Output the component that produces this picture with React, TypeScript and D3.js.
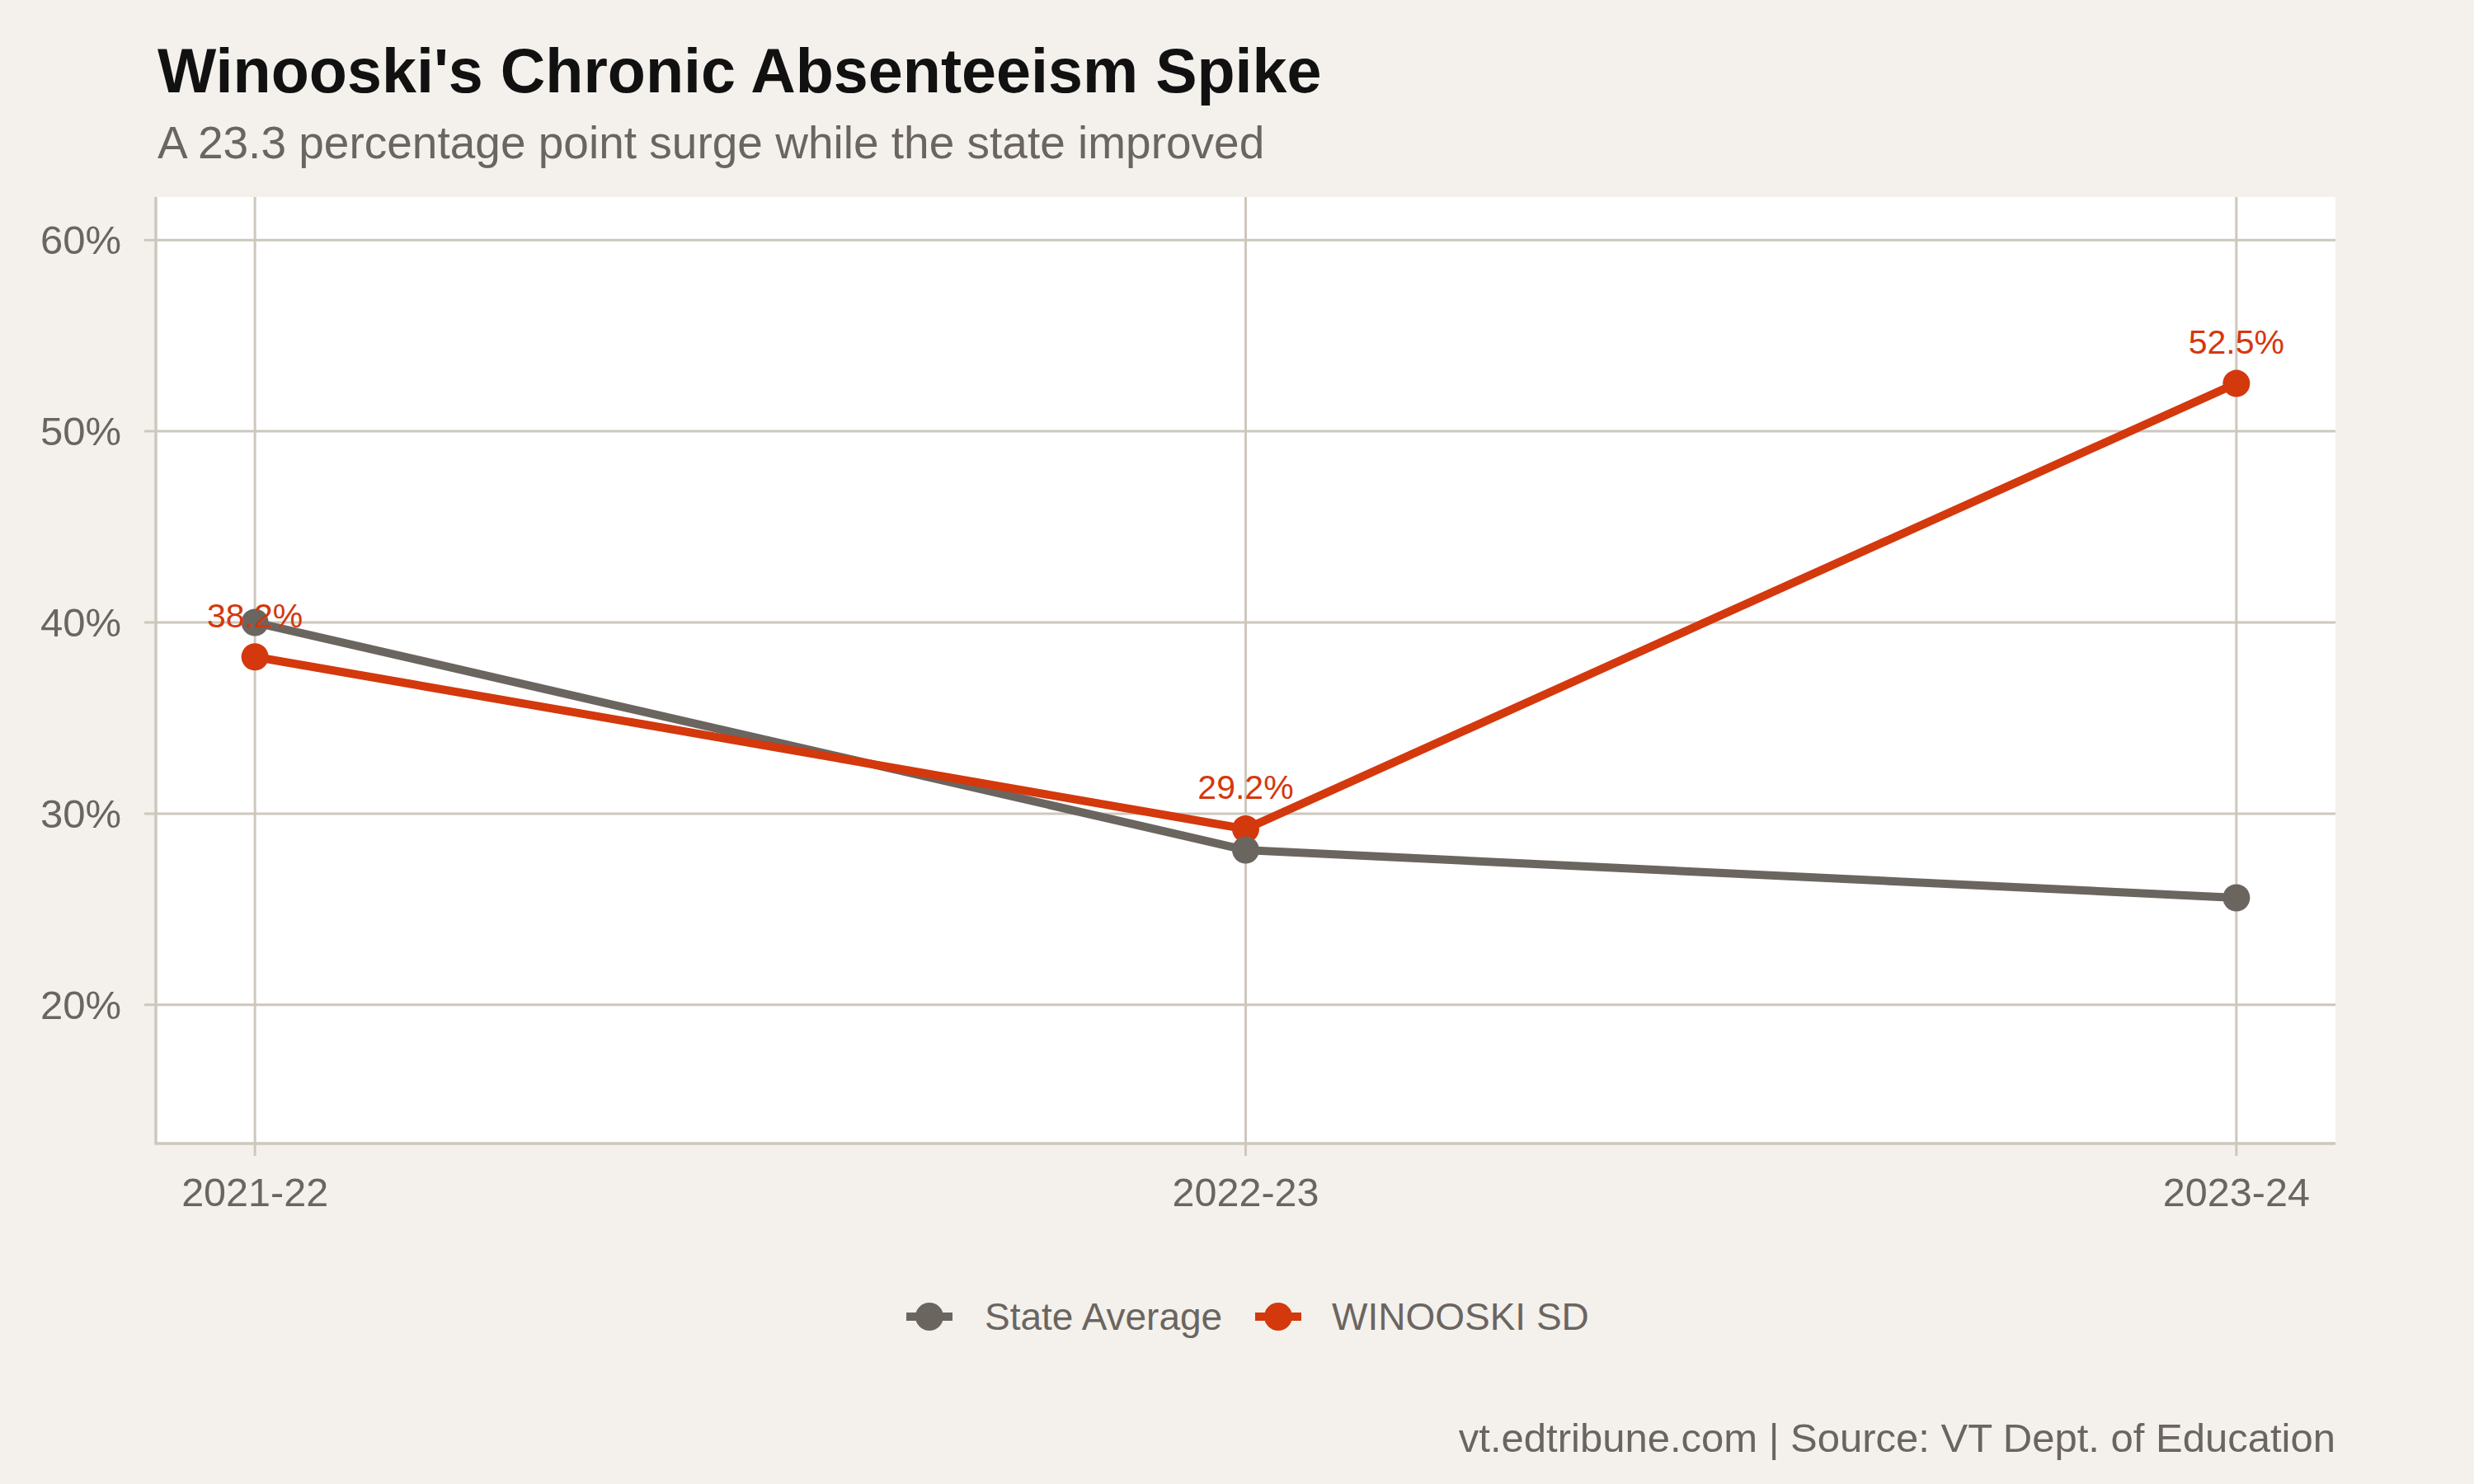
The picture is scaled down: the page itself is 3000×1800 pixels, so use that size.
import { useEffect, useRef } from "react";
import * as d3 from "d3";

const width = 3000;
const height = 1800;
const panel = { left: 189, right: 2832, top: 239, bottom: 1387 };

const schoolYears = ["2021-22", "2022-23", "2023-24"];
const stateAverage = [40.0, 28.1, 25.6];
const winooski = [38.2, 29.2, 52.5];
const yTicks = [20, 30, 40, 50, 60];
const yLimits = [15, 60];

const seriesNames = ["State Average", "WINOOSKI SD"];
const seriesColors = ["#6b6560", "#d4380d"];

const bg = "#f4f1ec";
const gridColor = "#cdc7bd";
const textGrey = "#6b6560";
const font = "'Liberation Sans', Arial, Helvetica, sans-serif";

export default function App() {
  const svgRef = useRef<SVGSVGElement | null>(null);

  useEffect(() => {
    if (!svgRef.current) return;
    const svg = d3.select(svgRef.current);
    svg.selectAll("*").remove();

    // x: index scale with 5% expansion like ggplot
    const n = schoolYears.length;
    const xPad = (n - 1) * 0.05;
    const x = d3
      .scaleLinear()
      .domain([-xPad, n - 1 + xPad])
      .range([panel.left, panel.right]);

    const ySpan = yLimits[1] - yLimits[0];
    const y = d3
      .scaleLinear()
      .domain([yLimits[0] - ySpan * 0.05, yLimits[1] + ySpan * 0.05])
      .range([panel.bottom, panel.top]);

    svg.append("rect").attr("width", width).attr("height", height).attr("fill", bg);

    // panel
    svg
      .append("rect")
      .attr("x", panel.left)
      .attr("y", panel.top)
      .attr("width", panel.right - panel.left)
      .attr("height", panel.bottom - panel.top)
      .attr("fill", "#ffffff");

    const grid = svg.append("g");
    grid
      .selectAll("line.h")
      .data(yTicks)
      .join("line")
      .attr("class", "h")
      .attr("x1", panel.left - 14)
      .attr("x2", panel.right)
      .attr("y1", (d) => y(d))
      .attr("y2", (d) => y(d))
      .attr("stroke", gridColor)
      .attr("stroke-width", 3);

    grid
      .selectAll("line.v")
      .data(schoolYears)
      .join("line")
      .attr("class", "v")
      .attr("x1", (_, i) => x(i))
      .attr("x2", (_, i) => x(i))
      .attr("y1", panel.top)
      .attr("y2", panel.bottom + 15)
      .attr("stroke", gridColor)
      .attr("stroke-width", 3);

    // axis lines
    svg
      .append("path")
      .attr("d", `M${panel.left},${panel.top}V${panel.bottom}H${panel.right}`)
      .attr("fill", "none")
      .attr("stroke", gridColor)
      .attr("stroke-width", 3.5);

    // tick labels
    svg
      .append("g")
      .selectAll("text")
      .data(yTicks)
      .join("text")
      .attr("x", 147)
      .attr("y", (d) => y(d) + 17)
      .attr("text-anchor", "end")
      .attr("fill", textGrey)
      .style("font-family", font)
      .style("font-size", "49px")
      .text((d) => `${d}%`);

    svg
      .append("g")
      .selectAll("text")
      .data(schoolYears)
      .join("text")
      .attr("x", (_, i) => x(i))
      .attr("y", 1463)
      .attr("text-anchor", "middle")
      .attr("fill", textGrey)
      .style("font-family", font)
      .style("font-size", "48.5px")
      .text((d) => d);

    const line = d3
      .line<number>()
      .x((_, i) => x(i))
      .y((d) => y(d));

    const allSeries = [stateAverage, winooski];

    // lines (Winooski on top)
    svg
      .append("g")
      .selectAll("path")
      .data(allSeries)
      .join("path")
      .attr("d", (d) => line(d))
      .attr("fill", "none")
      .attr("stroke", (_, i) => seriesColors[i])
      .attr("stroke-width", 10)
      .attr("stroke-linejoin", "round");

    // points: Winooski first, state on top
    const pointLayer = svg.append("g");
    [1, 0].forEach((s) => {
      pointLayer
        .append("g")
        .selectAll("circle")
        .data(allSeries[s])
        .join("circle")
        .attr("cx", (_, i) => x(i))
        .attr("cy", (d) => y(d))
        .attr("r", 16.5)
        .attr("fill", seriesColors[s]);
    });

    // value labels
    svg
      .append("g")
      .selectAll("text")
      .data(winooski)
      .join("text")
      .attr("x", (_, i) => x(i))
      .attr("y", (d) => y(d) - 36)
      .attr("text-anchor", "middle")
      .attr("fill", seriesColors[1])
      .style("font-family", font)
      .style("font-size", "41px")
      .text((d) => `${d.toFixed(1)}%`);

    // legend
    const legendKeyX = [1127, 1550];
    const legendTextX = [1194, 1615];
    const legendY = 1597;
    const legend = svg.append("g");
    seriesNames.forEach((name, i) => {
      const g = legend.append("g");
      g.append("line")
        .attr("x1", legendKeyX[i] - 28)
        .attr("x2", legendKeyX[i] + 28)
        .attr("y1", legendY)
        .attr("y2", legendY)
        .attr("stroke", seriesColors[i])
        .attr("stroke-width", 10);
      g.append("circle")
        .attr("cx", legendKeyX[i])
        .attr("cy", legendY)
        .attr("r", 17)
        .attr("fill", seriesColors[i]);
      g.append("text")
        .attr("x", legendTextX[i])
        .attr("y", 1613)
        .attr("fill", textGrey)
        .style("font-family", font)
        .style("font-size", "46px")
        .text(name);
    });

    // titles
    svg
      .append("text")
      .attr("x", 191)
      .attr("y", 112)
      .attr("fill", "#111111")
      .style("font-family", font)
      .style("font-size", "75.5px")
      .style("font-weight", "700")
      .text("Winooski's Chronic Absenteeism Spike");

    svg
      .append("text")
      .attr("x", 191)
      .attr("y", 192)
      .attr("fill", textGrey)
      .style("font-family", font)
      .style("font-size", "55px")
      .text("A 23.3 percentage point surge while the state improved");

    svg
      .append("text")
      .attr("x", panel.right)
      .attr("y", 1761)
      .attr("text-anchor", "end")
      .attr("fill", textGrey)
      .style("font-family", font)
      .style("font-size", "49px")
      .text("vt.edtribune.com | Source: VT Dept. of Education");
  }, []);

  return (
    <svg
      ref={svgRef}
      width={width}
      height={height}
      viewBox={`0 0 ${width} ${height}`}
      style={{ position: "absolute", left: 0, top: 0, display: "block" }}
    />
  );
}
